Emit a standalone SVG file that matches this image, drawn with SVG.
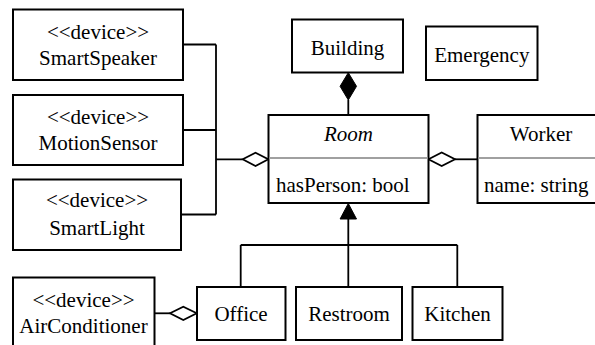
<svg xmlns="http://www.w3.org/2000/svg" width="595" height="345" viewBox="0 0 595 345">
<style>
.box{fill:#fff;stroke:#000;stroke-width:2}
.div{stroke:#a0a0a0;stroke-width:2}
text{font-family:'Liberation Serif','Times New Roman',serif;font-size:21px;fill:#000}
.c{text-anchor:middle}
.ln{fill:none;stroke:#000;stroke-width:1.8}
.od{fill:#fff;stroke:#000;stroke-width:1.8}
.fd{fill:#000;stroke:#000;stroke-width:1}
</style>
<rect width="595" height="345" fill="#fff"/>
<g id="connectors">
<path class="ln" d="M183,44.5H216M183,130H216M181,214.5H216M216,44.5V214.5M216,159.3H242.7"/>
<polygon class="od" points="242.7,159.3 255.5,152.7 268.3,159.3 255.5,166"/>
<path class="ln" d="M455,159.3H477.5"/>
<polygon class="od" points="428.5,159.3 441.7,152.5 455,159.3 441.7,166"/>
<path class="ln" d="M348.3,100V115"/>
<polygon class="fd" points="348.3,72.7 356.5,86.3 348.3,100 340.1,86.3"/>
<path class="ln" d="M348.3,219V245M240.7,245H457.3M240.7,245V287M348.3,245V287M457.3,245V287"/>
<polygon class="fd" points="348.3,203.5 356.5,219 340.1,219"/>
<path class="ln" d="M154.5,313.3H170"/>
<polygon class="od" points="170,313.3 183.3,306.7 196.7,313.3 183.3,320"/>
</g>
<g id="SmartSpeaker">
<rect class="box" x="13" y="9.5" width="170" height="70.5"/>
<text class="c" x="98" y="38.5">&lt;&lt;device&gt;&gt;</text>
<text class="c" x="98" y="65">SmartSpeaker</text>
</g>
<g id="MotionSensor">
<rect class="box" x="13" y="95" width="170" height="70"/>
<text class="c" x="98" y="123.5">&lt;&lt;device&gt;&gt;</text>
<text class="c" x="98" y="150">MotionSensor</text>
</g>
<g id="SmartLight">
<rect class="box" x="13" y="179.5" width="168" height="70.5"/>
<text class="c" x="97" y="207">&lt;&lt;device&gt;&gt;</text>
<text class="c" x="97" y="235">SmartLight</text>
</g>
<g id="AirConditioner">
<rect class="box" x="13" y="277.5" width="141.5" height="80"/>
<text class="c" x="83.5" y="307.3">&lt;&lt;device&gt;&gt;</text>
<text class="c" x="83.5" y="333.3">AirConditioner</text>
</g>
<g id="Building">
<rect class="box" x="292" y="19.5" width="111" height="53"/>
<text class="c" x="347.5" y="54.5">Building</text>
</g>
<g id="Emergency">
<rect class="box" x="426" y="26.5" width="111.5" height="53.5"/>
<text class="c" x="481.8" y="62">Emergency</text>
</g>
<g id="Room">
<rect class="box" x="268.5" y="115" width="160" height="88"/>
<line class="div" x1="269.5" y1="158" x2="427.5" y2="158"/>
<text class="c" x="348.5" y="141" font-style="italic">Room</text>
<text x="276" y="191.7">hasPerson: bool</text>
</g>
<g id="Worker">
<rect class="box" x="477.5" y="115" width="130" height="88"/>
<line class="div" x1="478.5" y1="158" x2="600" y2="158"/>
<text class="c" x="541" y="141">Worker</text>
<text x="484" y="191.7">name: string</text>
</g>
<g id="Office">
<rect class="box" x="197" y="287" width="88.5" height="53"/>
<text class="c" x="241" y="320.7">Office</text>
</g>
<g id="Restroom">
<rect class="box" x="296" y="287" width="106" height="53"/>
<text class="c" x="349" y="320.7">Restroom</text>
</g>
<g id="Kitchen">
<rect class="box" x="412.5" y="287" width="90" height="53"/>
<text class="c" x="457.5" y="320.7">Kitchen</text>
</g>
</svg>
